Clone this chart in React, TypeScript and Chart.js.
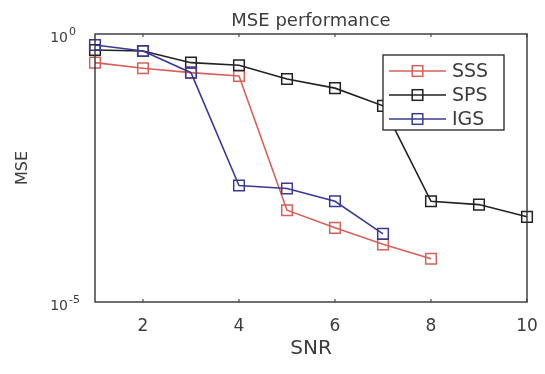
import React, { useEffect, useRef } from "react";
import { Chart, registerables } from "chart.js";

Chart.register(...registerables);

const snr = [1, 2, 3, 4, 5, 6, 7, 8, 9, 10];
const sssValues = [0.292, 0.23, 0.19, 0.165, 5.15e-4, 2.42e-4, 1.19e-4, 6.4e-5];
const spsValues = [0.504, 0.483, 0.292, 0.262, 0.145, 0.0977, 0.0457, 7.57e-4, 6.57e-4, 3.88e-4];
const igsValues = [0.624, 0.483, 0.19, 1.49e-3, 1.31e-3, 7.57e-4, 1.87e-4];
const xTicks = [2, 4, 6, 8, 10];
const yTicks = [1e-5, 1];
const yTickBase = "10";
const yTickExponents = ["-5", "0"];
const seriesNames = ["SSS", "SPS", "IGS"];
const titleText = "MSE performance";
const xTitle = "SNR";
const yTitle = "MSE";

const FONT = "'DejaVu Sans', sans-serif";
const TEXT = "#3c3c3c";
const AXIS = "#333333";

const toPoints = (vals: number[]) => vals.map((v, i) => ({ x: snr[i], y: v }));

const decorPlugin = {
  id: "decor",
  afterDatasetsDraw(chart: any) {
    const { ctx, chartArea: a, scales } = chart;
    const xs = scales.x;
    const ys = scales.y;
    ctx.save();
    // axes box
    ctx.strokeStyle = AXIS;
    ctx.lineWidth = 1.4;
    ctx.strokeRect(a.left, a.top, a.right - a.left, a.bottom - a.top);
    // inward ticks
    ctx.lineWidth = 1;
    xTicks.forEach((t) => {
      const px = xs.getPixelForValue(t);
      ctx.beginPath();
      ctx.moveTo(px, a.bottom);
      ctx.lineTo(px, a.bottom - 3);
      ctx.moveTo(px, a.top);
      ctx.lineTo(px, a.top + 3);
      ctx.stroke();
    });
    // y tick exponents, placed right after the base label
    const labelRight = ys.right - ys.options.ticks.padding;
    ctx.fillStyle = TEXT;
    ctx.font = `11px ${FONT}`;
    ctx.textAlign = "left";
    ctx.textBaseline = "middle";
    yTicks.forEach((t, i) => {
      const py = ys.getPixelForValue(t);
      ctx.fillText(yTickExponents[i], labelRight + 1, py - 2);
    });
    // legend
    const bx = 383, by = 55, bw = 121, bh = 75;
    ctx.fillStyle = "#ffffff";
    ctx.fillRect(bx, by, bw, bh);
    ctx.strokeStyle = "#222222";
    ctx.lineWidth = 1.3;
    ctx.strokeRect(bx, by, bw, bh);
    const rows = [71, 95, 119];
    [0, 1, 2].forEach((di, r) => {
      const ds = chart.data.datasets[di];
      const y = rows[r];
      ctx.strokeStyle = ds.borderColor;
      ctx.lineWidth = 1.5;
      ctx.beginPath();
      ctx.moveTo(389, y);
      ctx.lineTo(446, y);
      ctx.stroke();
      const s = 5.3;
      ctx.strokeRect(417.5 - s, y - s, 2 * s, 2 * s);
      ctx.fillStyle = TEXT;
      ctx.font = `19px ${FONT}`;
      ctx.textAlign = "left";
      ctx.textBaseline = "middle";
      ctx.fillText(ds.label, 452, y + 1);
    });
    // title
    ctx.fillStyle = TEXT;
    ctx.font = `18px ${FONT}`;
    ctx.textAlign = "center";
    ctx.textBaseline = "alphabetic";
    ctx.fillText(titleText, (a.left + a.right) / 2, 26);
    ctx.restore();
  },
};

export default function App() {
  const ref = useRef<HTMLCanvasElement | null>(null);
  useEffect(() => {
    document.body.style.margin = "0";
    const canvas = ref.current;
    if (!canvas) return;
    const common = {
      fill: false,
      pointStyle: "rect",
      pointRadius: 7.5,
      pointBorderWidth: 1.5,
      borderWidth: 1.6,
      pointBackgroundColor: "rgba(0,0,0,0)",
      tension: 0,
      clip: false,
    };
    const chart = new Chart(canvas, {
      type: "line",
      data: {
        datasets: [
          { ...common, label: seriesNames[0], data: toPoints(sssValues), borderColor: "#d8605a", pointBorderColor: "#d8605a", order: 2 },
          { ...common, label: seriesNames[1], data: toPoints(spsValues), borderColor: "#222222", pointBorderColor: "#222222", order: 1 },
          { ...common, label: seriesNames[2], data: toPoints(igsValues), borderColor: "#3a3a96", pointBorderColor: "#3a3a96", order: 0 },
        ] as any,
      },
      options: {
        animation: false,
        responsive: false,
        layout: { padding: { top: 34, right: 18, left: 0, bottom: 0 } },
        plugins: { legend: { display: false }, tooltip: { enabled: false }, title: { display: false } },
        scales: {
          x: {
            type: "linear",
            min: 1,
            max: 10,
            grid: { display: false, drawTicks: false },
            border: { display: false },
            afterBuildTicks: (s: any) => {
              s.ticks = xTicks.map((v) => ({ value: v }));
            },
            afterFit: (s: any) => {
              s.height = 72;
              s.paddingLeft = 0;
              s.paddingRight = 0;
            },
            ticks: { font: { family: FONT, size: 17 }, color: TEXT, padding: 14, maxRotation: 0, autoSkip: false },
            title: { display: true, text: xTitle, font: { family: FONT, size: 20 }, color: TEXT, padding: { top: 0, bottom: 13 } },
          },
          y: {
            type: "logarithmic",
            min: 1e-5,
            max: 1,
            grid: { display: false, drawTicks: false },
            border: { display: false },
            afterBuildTicks: (s: any) => {
              s.ticks = yTicks.map((v) => ({ value: v, major: true }));
            },
            afterFit: (s: any) => {
              s.width = 95;
              s.paddingTop = 0;
              s.paddingBottom = 0;
            },
            ticks: {
              font: { family: FONT, size: 14 },
              color: TEXT,
              padding: 27,
              labelOffset: 4,
              autoSkip: false,
              callback: () => yTickBase,
            },
            title: { display: true, text: yTitle, font: { family: FONT, size: 16 }, color: TEXT, padding: { top: 13, bottom: 0 } },
          },
        },
      } as any,
      plugins: [decorPlugin],
    });
    return () => chart.destroy();
  }, []);
  return <canvas ref={ref} width={545} height={374} style={{ display: "block", width: 545, height: 374 }} />;
}
